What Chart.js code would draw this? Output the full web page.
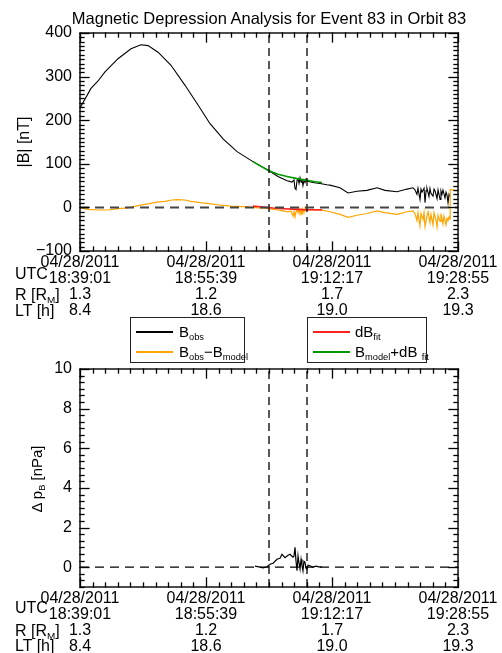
<!DOCTYPE html>
<html>
<head>
<meta charset="utf-8">
<script src="https://cdn.jsdelivr.net/npm/chart.js@4.4.1/dist/chart.umd.min.js"></script>
<style>
  body { margin: 0; background: #fff; }
  #wrap { position: relative; width: 502px; height: 653px; }
  canvas { position: absolute; left: 0; }
  .t { position: absolute; font: 16px "Liberation Sans", Arial, sans-serif; line-height: 1; white-space: nowrap; color: #000; }
  .rot { width: 200px; height: 16px; text-align: center; transform: rotate(-90deg); }
  sub { font-size: 62%; vertical-align: -0.3em; line-height: 0; }
  .legend { position: absolute; border: 1.5px solid #222; background: #fff; box-sizing: border-box; }
  .sw { position: absolute; left: 5px; width: 37px; height: 1.5px; }
  .lab { position: absolute; font: 15px "Liberation Sans", Arial, sans-serif; line-height: 1; white-space: nowrap; }
</style>
</head>
<body>
<div id="wrap">
  <canvas id="topChart" width="502" height="320" style="top:0"></canvas>
  <canvas id="bottomChart" width="502" height="333" style="top:320px"></canvas>

  <div class="t" style="left:70px;width:398px;top:10px;text-align:center;font-size:16.5px">Magnetic Depression Analysis for Event 83 in Orbit 83</div>
  <div class="t rot" style="left:-76px;top:134px">|B| [nT]</div>
  <div class="t rot" style="left:-63px;top:471px;font-size:15px">Δ p<sub>B</sub> [nPa]</div>

  <div class="t" style="left:15px;top:266px">UTC</div>
  <div class="t" style="left:15px;top:287px">R [R<sub>M</sub>]</div>
  <div class="t" style="left:15px;top:303px">LT [h]</div>
  <div class="t" style="left:15px;top:600px">UTC</div>
  <div class="t" style="left:15px;top:623px">R [R<sub>M</sub>]</div>
  <div class="t" style="left:15px;top:638px">LT [h]</div>

  <div class="legend" style="left:130px;top:317px;width:115px;height:46px">
    <div class="sw" style="top:13px;background:#000"></div>
    <div class="lab" style="left:48px;top:6px">B<sub>obs</sub></div>
    <div class="sw" style="top:33px;background:#ffa500"></div>
    <div class="lab" style="left:48px;top:26px">B<sub>obs</sub>−B<sub>model</sub></div>
  </div>
  <div class="legend" style="left:307px;top:317px;width:120px;height:46px">
    <div class="sw" style="top:13px;background:#ff2020"></div>
    <div class="lab" style="left:47px;top:6px">dB<sub>fit</sub></div>
    <div class="sw" style="top:33px;background:#009a00"></div>
    <div class="lab" style="left:47px;top:26px">B<sub>model</sub>+dB <sub>fit</sub></div>
  </div>
</div>

<script>
// time axis: seconds after 04/28/2011 18:39:01 UTC
const tickDate = "04/28/2011";
const tickSeconds = [0, 998, 1996, 2994];
const tickUTC = ["18:39:01", "18:55:39", "19:12:17", "19:28:55"];
const tickR = ["1.3", "1.2", "1.7", "2.3"];
const tickLT = ["8.4", "18.6", "19.0", "19.3"];
const eventStart = 1497;
const eventEnd = 1798;

// |B| observed [nT]
const obsTime = [0, 87, 143, 198, 301, 404, 483, 539, 618, 721, 832, 935, 1030, 1117, 1133, 1244, 1370, 1497, 1568, 1640,
  1679, 1695, 1703, 1711, 1719, 1727, 1735, 1743, 1751, 1758, 1766, 1774, 1782, 1790, 1798,
  1869, 1901, 1956, 1980, 2059, 2123, 2194, 2273, 2353, 2416, 2511, 2590, 2638,
  2654, 2669, 2677, 2693, 2701, 2709, 2725, 2733, 2741, 2748, 2764, 2772, 2780, 2796, 2804, 2812, 2828, 2836,
  2852, 2859, 2867, 2875, 2891, 2899, 2907, 2915, 2923, 2931];
const obsB = [228, 273, 290, 311, 341, 364, 373, 371, 356, 326, 280, 235, 192, 163, 157, 128, 105, 84, 71, 61,
  58, 63, 44, 41, 62, 66, 55, 68, 58, 64, 50, 62, 57, 65, 60,
  56, 55, 52, 51, 45, 33, 37, 39, 45, 39, 36, 42, 45,
  40, 30, 44, 18, 42, 35, 44, 11, 38, 44, 25, 43, 32, 26, 42, 38, 20, 40,
  18, 38, 30, 40, 22, 35, 28, 11, 30, 25];

// B_obs - B_model [nT]
const resTime = [0, 63, 143, 222, 301, 380, 459, 539, 610, 673, 729, 776, 832, 879, 951, 1038, 1117, 1196, 1331, 1410,
  1465, 1521, 1568, 1608, 1648, 1671, 1679, 1687, 1695, 1703, 1711, 1719, 1727, 1735, 1743, 1751, 1758, 1766, 1774,
  1782, 1790, 1806, 1846, 1901, 1980, 2059, 2123, 2194, 2273, 2353, 2416, 2511, 2590, 2638,
  2654, 2669, 2677, 2693, 2701, 2717, 2725, 2733, 2748, 2757, 2772, 2780, 2796, 2804, 2820, 2828, 2836,
  2852, 2859, 2875, 2883, 2899, 2907, 2915, 2923, 2931, 2932, 2986];
const resB = [-1, -4.5, -6, -6, -3, -1, 4, 8, 12, 14, 17, 18, 17, 14, 11, 8, 5, 3, 1, -1,
  -2, -4, -6, -8, -10, -8, -14, -20, -9, -22, -10, -5, -12, -3, -15, -6, -18, -4, -12,
  -2, -8, -5, -6, -5, -10, -16, -23, -18, -14, -8, -12, -16, -10, -8,
  -15, -30, -12, -42, -14, -28, -12, -44, -20, -10, -35, -16, -40, -12, -30, -45, -18,
  -32, -14, -38, -20, -40, -25, -30, -22, -27, 41, 38];

// dB fit [nT]
const fitTime = [1370, 1450, 1529, 1608, 1687, 1766, 1846, 1917];
const fitB = [3, 1, -1.5, -3, -4, -5, -5.5, -6];

// B_model + dB fit [nT]
const modTime = [1370, 1434, 1497, 1568, 1640, 1719, 1798, 1861, 1917];
const modB = [105, 94, 84, 76, 71, 66, 62, 59, 57];

// magnetic pressure deficit [nPa]
const dpTime = [1386, 1426, 1450, 1481, 1505, 1529, 1560, 1584, 1600, 1624, 1648, 1663, 1687, 1695, 1703, 1711, 1719,
  1727, 1735, 1743, 1751, 1758, 1766, 1774, 1782, 1790, 1798, 1806, 1822, 1846, 1869, 1901, 1917];
const dpB = [0.05, 0.0, -0.03, 0.02, 0.15, 0.2, 0.4, 0.45, 0.65, 0.48, 0.6, 0.65, 0.5, 0.55, 1.0, 0.3, -0.18,
  0.57, 0.2, -0.1, 0.4, 0.1, -0.18, 0.3, 0.25, -0.05, -0.1, 0.1, 0.07, 0.0, 0.05, 0.0, 0.02];

const topYTicks = [-100, 0, 100, 200, 300, 400];
const bottomYTicks = [0, 2, 4, 6, 8, 10];

Chart.defaults.font.family = '"Liberation Sans", Arial, sans-serif';
Chart.defaults.color = "#000";

const pts = (xs, ys) => xs.map((x, i) => ({ x: x, y: ys[i] }));

// frame plus inward major/minor ticks on all four sides (IDL style)
function frameTicks(yMajors, yMin, yMax, yMinor) {
  const xMax = tickSeconds[tickSeconds.length - 1];
  return {
    id: "frameTicks",
    afterDraw(chart) {
      const ctx = chart.ctx;
      const L = chart.chartArea.left, R = chart.chartArea.right;
      const T = chart.chartArea.top, B = chart.chartArea.bottom;
      const px = v => L + (v / xMax) * (R - L);
      const py = v => B - ((v - yMin) / (yMax - yMin)) * (B - T);
      ctx.save();
      ctx.setLineDash([]);
      ctx.globalAlpha = 1;
      ctx.strokeStyle = "#000";
      ctx.lineWidth = 1.4;
      ctx.strokeRect(L, T, R - L, B - T);
      ctx.lineWidth = 1.3;
      const xStep = (tickSeconds[1] - tickSeconds[0]) / 10;
      for (let k = 0; k * xStep <= xMax + 1e-6; k++) {
        const p = Math.round(px(k * xStep)) + 0.5;
        const len = k % 10 === 0 ? 9 : 4;
        ctx.strokeRect(p, B - len, 0.01, len);
        ctx.strokeRect(p, T, 0.01, len);
      }
      const yStep = (yMajors[1] - yMajors[0]) / yMinor;
      for (let k = Math.ceil(yMin / yStep - 1e-6); k * yStep <= yMax + 1e-6; k++) {
        const v = k * yStep;
        const p = Math.round(py(v)) + 0.5;
        const len = yMajors.some(m => Math.abs(m - v) < 1e-6) ? 9 : 4;
        ctx.strokeRect(L, p, len, 0.01);
        ctx.strokeRect(R - len, p, len, 0.01);
      }
      ctx.restore();
    }
  };
}

function makeChart(id, datasets, yMin, yMax, yTicks, yMinor, padTop, xHeight) {
  return new Chart(document.getElementById(id), {
    type: "line",
    data: { datasets: datasets },
    plugins: [frameTicks(yTicks, yMin, yMax, yMinor)],
    options: {
      responsive: false,
      animation: false,
      layout: { padding: { top: padTop, right: 44, left: 0, bottom: 0 } },
      elements: { point: { radius: 0 }, line: { tension: 0 } },
      plugins: {
        legend: { display: false },
        tooltip: { enabled: false }
      },
      scales: {
        x: {
          type: "linear",
          min: 0,
          max: tickSeconds[tickSeconds.length - 1],
          grid: { display: false, drawTicks: false },
          border: { display: false },
          afterBuildTicks: s => { s.ticks = tickSeconds.map(v => ({ value: v })); },
          afterFit: s => { s.height = xHeight; },
          ticks: {
            autoSkip: false,
            maxRotation: 0,
            padding: 4,
            font: { size: 16, lineHeight: "15.8px" },
            callback: (v, i) => [tickDate, tickUTC[i], tickR[i], tickLT[i]]
          }
        },
        y: {
          min: yMin,
          max: yMax,
          grid: { display: false, drawTicks: false },
          border: { display: false },
          afterBuildTicks: s => { s.ticks = yTicks.map(v => ({ value: v })); },
          afterFit: s => { s.width = 80; },
          ticks: {
            padding: 8,
            font: { size: 16 },
            callback: v => (v < 0 ? "\u2212" + Math.abs(v) : String(v))
          }
        }
      }
    }
  });
}

const topSets = [
  { data: pts([0, 2994], [0, 0]), borderColor: "#444", borderWidth: 2, borderDash: [9, 6], order: 0 },
  { data: pts([eventStart, eventStart], [-100, 400]), borderColor: "#000", borderWidth: 1.3, borderDash: [8, 5], order: 1 },
  { data: pts([eventEnd, eventEnd], [-100, 400]), borderColor: "#000", borderWidth: 1.3, borderDash: [8, 5], order: 1 },
  { data: pts(fitTime, fitB), borderColor: "#ff2020", borderWidth: 1.6, order: 2 },
  { data: pts(modTime, modB), borderColor: "#009a00", borderWidth: 1.6, order: 2 },
  { data: pts(resTime, resB), borderColor: "#ffa500", borderWidth: 1.2, order: 3 },
  { data: pts(obsTime, obsB), borderColor: "#000", borderWidth: 1.1, order: 3 }
];
makeChart("topChart", topSets, -100, 400, topYTicks, 10, 33, 69);

const bottomSets = [
  { data: pts([0, 2994], [0, 0]), borderColor: "#000", borderWidth: 1.3, borderDash: [9, 6], order: 1 },
  { data: pts([eventStart, eventStart], [-1, 10]), borderColor: "#000", borderWidth: 1.3, borderDash: [8, 5], order: 1 },
  { data: pts([eventEnd, eventEnd], [-1, 10]), borderColor: "#000", borderWidth: 1.3, borderDash: [8, 5], order: 1 },
  { data: pts(dpTime, dpB), borderColor: "#000", borderWidth: 1.2, order: 0 }
];
makeChart("bottomChart", bottomSets, -1, 10, bottomYTicks, 6, 49, 66);
</script>
</body>
</html>
